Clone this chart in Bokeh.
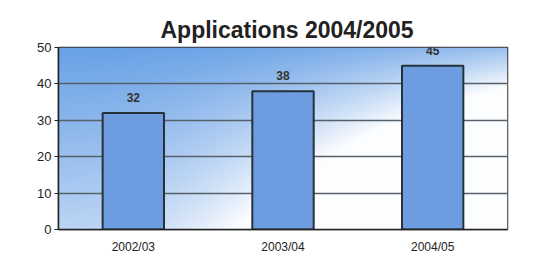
import numpy as np
from bokeh.plotting import figure
from bokeh.models import ColumnDataSource, LabelSet, FactorRange
from bokeh.core.properties import value
from bokeh.embed import file_html
from bokeh.resources import INLINE

# ---- data ----
categories = ["2002/03", "2003/04", "2004/05"]
applications = [32, 38, 45]
label_text = ["32", "38", "45"]
y_ticks = [0, 10, 20, 30, 40, 50]

FONT = "Liberation Sans"

p = figure(
    x_range=FactorRange(*categories), y_range=(0, 50),
    width=532, height=256, output_backend="svg", toolbar_location=None,
    min_border_left=58, min_border_right=25, min_border_bottom=20, min_border_top=47,
)
p.background_fill_color = "white"
p.border_fill_color = "white"

# title
p.title.text = "Applications 2004/2005"
p.title.align = "left"
p.title.offset = 102
p.title.text_font = FONT
p.title.text_font_size = "23px"
p.title.text_font_style = "bold"
p.title.text_color = "#222222"

# gradient background (decoration)
H, W = 100, 200
vv = np.linspace(0, 1, H)[:, None]        # 0 bottom .. 1 top
hh = np.linspace(0, 1, W)[None, :]        # 0 left .. 1 right
v = 1 - vv                                 # 0 top .. 1 bottom
f = np.clip(v * (0.55 + 2.5 * hh ** 2) + 0.35 * hh ** 2, 0, 1)
top = np.array([106, 162, 230])
white = np.array([252, 253, 255])
rgb = top[None, None, :] * (1 - f[..., None]) + white[None, None, :] * f[..., None]
img = np.empty((H, W), dtype=np.uint32)
view = img.view(dtype=np.uint8).reshape((H, W, 4))
view[..., 0] = rgb[..., 0].astype(np.uint8)
view[..., 1] = rgb[..., 1].astype(np.uint8)
view[..., 2] = rgb[..., 2].astype(np.uint8)
view[..., 3] = 255
p.image_rgba(image=[img], x=0, y=0, dw=len(categories), dh=max(y_ticks), level="image")

src = ColumnDataSource(dict(cat=categories, val=applications, lab=label_text))
p.vbar(x="cat", top="val", width=0.41, source=src,
       fill_color="#6d9de0", line_color="#263238", line_width=2)

labels = LabelSet(x="cat", y="val", text="lab", source=src,
                  text_align="center", text_baseline="bottom", y_offset=11,
                  text_font=value(FONT), text_font_size=value("12px"),
                  text_font_style=value("bold"), text_color=value("#333333"))
p.add_layout(labels)

# grid
p.xgrid.grid_line_color = None
p.ygrid.grid_line_color = "#56606a"
p.ygrid.grid_line_width = 1.5
p.ygrid.ticker = y_ticks
p.yaxis.ticker = y_ticks

p.outline_line_color = "#333333"
p.outline_line_width = 1.5

for ax in (p.xaxis, p.yaxis):
    ax.axis_line_color = "#222222"
    ax.axis_line_width = 1.5
    ax.major_label_text_font = FONT
    ax.major_label_text_color = "#222222"
    ax.minor_tick_line_color = None
p.yaxis.major_label_text_font_size = "13px"
p.yaxis.major_tick_out = 4
p.yaxis.major_tick_in = 0
p.yaxis.major_tick_line_color = "#222222"
p.yaxis.major_label_standoff = 3
p.xaxis.major_label_text_font_size = "12px"
p.xaxis.major_tick_line_color = None
p.xaxis.major_tick_out = 0
p.xaxis.major_label_standoff = 10

open("out.html", "w").write(file_html(p, INLINE))
